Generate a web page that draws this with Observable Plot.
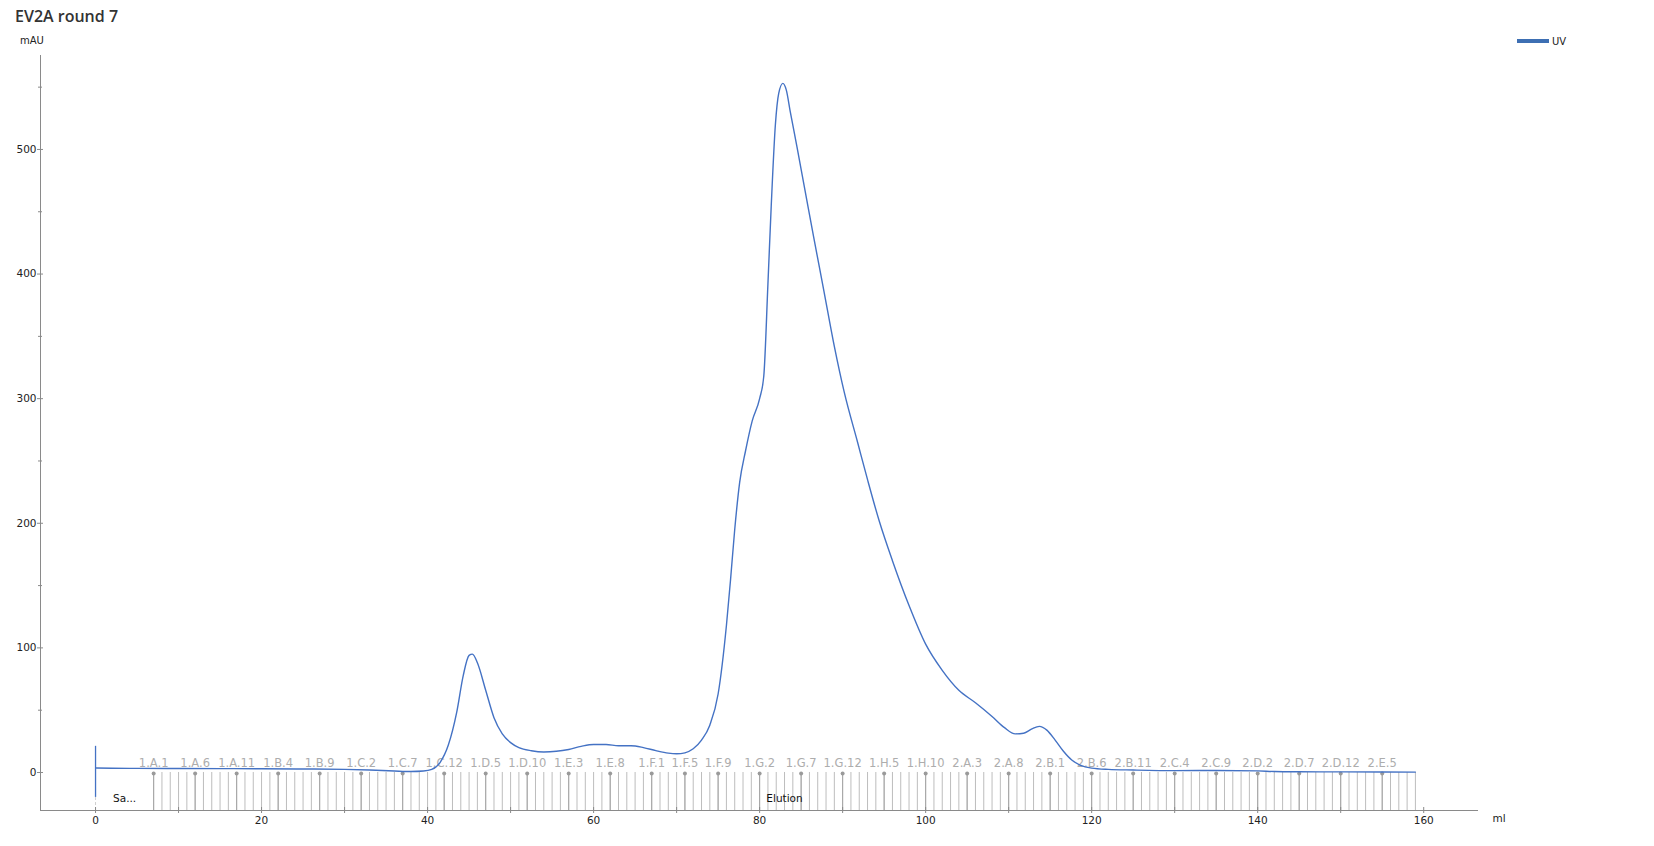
<!DOCTYPE html>
<html>
<head>
<meta charset="utf-8">
<script src="https://cdn.jsdelivr.net/npm/d3@7"></script>
<script src="https://cdn.jsdelivr.net/npm/@observablehq/plot@0.6"></script>
<style>
  html, body { margin: 0; padding: 0; background: #fff; }
  #head { position: relative; width: 1654px; height: 50px; }
  #title { position: absolute; left: 15px; top: 5px; font: 600 16px "Open Sans", sans-serif; color: #333; white-space: nowrap; }
  #yunit { position: absolute; left: 20px; top: 35px; font: 10px "DejaVu Sans", sans-serif; color: #222; line-height: 12px; }
  #legend { position: absolute; left: 1517px; top: 35px; font: 10px "DejaVu Sans", sans-serif; color: #222; line-height: 14px; white-space: nowrap; }
  #legend .sw { display: inline-block; width: 32px; height: 4px; background: #3d6fb3; vertical-align: middle; margin-right: 3px; position: relative; top: -1px; }
  #chart svg { display: block; }
</style>
</head>
<body>
<div id="head">
  <div id="title">EV2A round 7</div>
  <div id="yunit">mAU</div>
  <div id="legend"><span class="sw"></span>UV</div>
</div>
<div id="chart"></div>
<script>
// UV trace (ml, mAU)
const uvMl = [0.05, 2, 5, 10, 15, 20, 25, 30, 33, 36, 38, 39.5, 40.5, 41.5, 42.5, 43.5, 44.3, 45.0, 45.4, 46.0, 47.0, 48.0, 49.0, 50.0, 51.0, 52.5, 54.0, 55.5, 57.0, 58.5, 60.0, 61.5, 63.0, 64.5, 66.0, 67.5, 69.0, 70.0, 71.0, 72.0, 73.0, 74.0, 75.0, 76.0, 76.5, 77.0, 77.6, 78.3, 79.1, 80.0, 80.5, 81.0, 81.4, 81.9, 82.3, 82.8, 83.2, 83.7, 84.5, 85.5, 86.5, 87.7, 89.0, 90.2, 91.8, 93.0, 94.4, 96.0, 98.0, 100.0, 102.0, 104.0, 106.0, 108.0, 109.5, 110.8, 111.8, 112.8, 113.7, 114.6, 115.6, 116.6, 117.6, 118.6, 120, 122, 125, 130, 135, 140, 142, 145, 150, 155, 159];
const uvMau = [3.6, 3.4, 3.3, 3.2, 3.1, 3.0, 2.8, 2.5, 2.0, 1.2, 0.8, 1.2, 2.5, 8, 22, 48, 78, 94, 95, 88, 66, 44, 31, 24, 20, 17.5, 16.5, 17, 18.5, 21, 22.5, 22.5, 21.5, 21.5, 20, 17.5, 15.5, 15, 15.8, 19, 26, 38, 63, 118, 155, 195, 233, 258, 282, 300, 318, 392, 455, 520, 545, 553, 548, 530, 502, 466, 430, 388, 342, 305, 265, 235, 202, 170, 134, 103, 82, 66, 56, 45, 36, 31, 31.5, 35, 37, 34, 26, 17, 10, 6, 3.5, 2.5, 2, 1.5, 1.6, 1.3, 0.8, 0.6, 0.5, 0.4, 0.3];

// injection spike at 0 ml
const injectionMl = [0];
const injectionTop = [21];
const injectionBottom = [-20];

// fraction boundaries (ml)
const fractionMl = [7, 8, 9, 10, 11, 12, 13, 14, 15, 16, 17, 18, 19, 20, 21, 22, 23, 24, 25, 26, 27, 28, 29, 30, 31, 32, 33, 34, 35, 36, 37, 38, 39, 40, 41, 42, 43, 44, 45, 46, 47, 48, 49, 50, 51, 52, 53, 54, 55, 56, 57, 58, 59, 60, 61, 62, 63, 64, 65, 66, 67, 68, 69, 70, 71, 72, 73, 74, 75, 76, 77, 78, 79, 80, 81, 82, 83, 84, 85, 86, 87, 88, 89, 90, 91, 92, 93, 94, 95, 96, 97, 98, 99, 100, 101, 102, 103, 104, 105, 106, 107, 108, 109, 110, 111, 112, 113, 114, 115, 116, 117, 118, 119, 120, 121, 122, 123, 124, 125, 126, 127, 128, 129, 130, 131, 132, 133, 134, 135, 136, 137, 138, 139, 140, 141, 142, 143, 144, 145, 146, 147, 148, 149, 150, 151, 152, 153, 154, 155, 156, 157, 158, 159];

// labelled fractions
const fracLabels = ["1.A.1", "1.A.6", "1.A.11", "1.B.4", "1.B.9", "1.C.2", "1.C.7", "1.C.12", "1.D.5", "1.D.10", "1.E.3", "1.E.8", "1.F.1", "1.F.5", "1.F.9", "1.G.2", "1.G.7", "1.G.12", "1.H.5", "1.H.10", "2.A.3", "2.A.8", "2.B.1", "2.B.6", "2.B.11", "2.C.4", "2.C.9", "2.D.2", "2.D.7", "2.D.12", "2.E.5"];
const fracLabelMl = [7, 12, 17, 22, 27, 32, 37, 42, 47, 52, 57, 62, 67, 71, 75, 80, 85, 90, 95, 100, 105, 110, 115, 120, 125, 130, 135, 140, 145, 150, 155];

// run events
const eventNames = ["Sa...", "Elution"];
const eventStart = [0, 7];
const eventEnd = [7, 159];

// axis ticks
const xMajorTicks = [0, 20, 40, 60, 80, 100, 120, 140, 160];
const xMinorTicks = [10, 30, 50, 70, 90, 110, 130, 150];
const yMajorTicks = [0, 100, 200, 300, 400, 500];
const yMinorTicks = [50, 150, 250, 350, 450, 550];

const xDomain = [-6.63, 166.6];
const yDomain = [-30.5, 575.4];

const axisColor = "#8a8a8a";
const eventMid = eventStart.map((s, i) => (s + eventEnd[i]) / 2);

const chart = Plot.plot({
  width: 1654,
  height: 796,
  marginTop: 5,
  marginLeft: 40,
  marginRight: 176,
  marginBottom: 36,
  x: { domain: xDomain },
  y: { domain: yDomain },
  style: { fontFamily: "DejaVu Sans, sans-serif", fontSize: "10.5px", color: "#222", background: "#fff" },
  marks: [
    // fraction lines
    Plot.ruleX(fractionMl, { x: d => d, y1: yDomain[0], y2: 0, stroke: "#bdbdbd", strokeWidth: 1 }),
    Plot.ruleX(fracLabelMl, { x: d => d, y1: yDomain[0], y2: 0, stroke: "#a5a5a5", strokeWidth: 1 }),
    Plot.dot(fracLabelMl, { x: d => d, y: 0, dy: 1, r: 2, fill: "#9a9a9a", stroke: null }),
    Plot.text(fracLabels, { x: fracLabelMl, y: 0, dy: -9, text: d => d, fill: "#adadad", fontSize: 11.5 }),
    // event boundary at injection
    Plot.ruleX(eventStart.slice(0, 1), { x: d => d, y1: yDomain[0], y2: 0, stroke: "#cfcfcf", strokeDasharray: "3,2" }),
    // event labels
    Plot.text(eventNames, { x: eventMid, frameAnchor: "bottom", dy: -9, text: d => d, fill: "#111", fontSize: 10.5 }),
    // axes lines
    Plot.ruleX([xDomain[0]], { stroke: axisColor }),
    Plot.ruleY([yDomain[0]], { stroke: axisColor }),
    // axes ticks
    Plot.axisX(xMajorTicks, { anchor: "bottom", tickSize: 6, dy: -3, tickPadding: 3, stroke: axisColor, fill: "#222", label: null }),
    Plot.axisX(xMinorTicks, { anchor: "bottom", tickSize: 6, dy: -3, tickFormat: () => "", stroke: axisColor, label: null }),
    Plot.axisY(yMajorTicks, { anchor: "left", tickSize: 6, dx: 3, tickPadding: 1, stroke: axisColor, fill: "#222", label: null }),
    Plot.axisY(yMinorTicks, { anchor: "left", tickSize: 4, dx: 2, tickFormat: () => "", stroke: axisColor, label: null }),
    Plot.text(["ml"], { frameAnchor: "bottom-right", dx: 14, dy: 11, textAnchor: "start", text: d => d, fill: "#222", fontSize: 10.5 }),
    // injection spike
    Plot.ruleX(injectionMl, { x: d => d, y1: injectionTop, y2: injectionBottom, stroke: "#4472c4", strokeWidth: 1.3 }),
    // UV trace
    Plot.line(uvMau, { x: uvMl, y: uvMau, curve: "monotone-x", stroke: "#4472c4", strokeWidth: 1.4 })
  ]
});
document.getElementById("chart").appendChild(chart);
</script>
</body>
</html>
